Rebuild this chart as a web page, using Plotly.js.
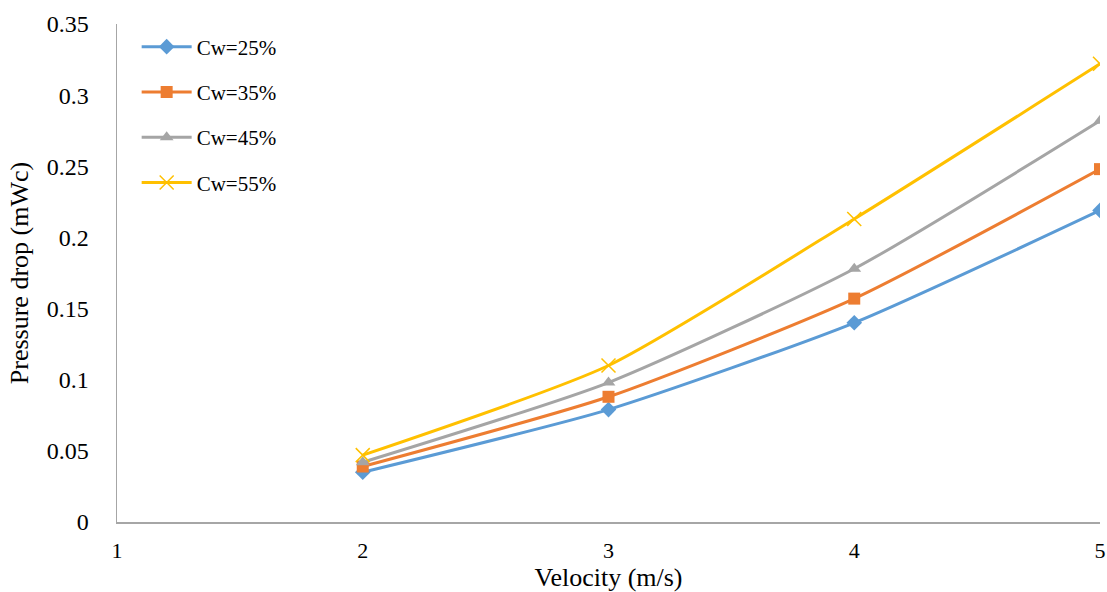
<!DOCTYPE html>
<html>
<head>
<meta charset="utf-8">
<script src="https://cdn.plot.ly/plotly-3.0.1.min.js"></script>
<style>
  html, body { margin: 0; padding: 0; background: #fff; }
  #chart { width: 1107px; height: 592px; }
</style>
</head>
<body>
<div id="chart"></div>
<script>
// Velocity (m/s)
const velocity = [2, 3, 4, 5];

// Pressure drop (mWc) for each water concentration
const cw25 = [0.035, 0.079, 0.140, 0.219];
const cw35 = [0.039, 0.088, 0.157, 0.248];
const cw45 = [0.042, 0.098, 0.178, 0.282];
const cw55 = [0.047, 0.110, 0.213, 0.322];

const seriesNames = ['Cw=25%', 'Cw=35%', 'Cw=45%', 'Cw=55%'];
const seriesValues = [cw25, cw35, cw45, cw55];
const colors = ['#5B9BD5', '#ED7D31', '#A5A5A5', '#FFC000'];
const symbols = ['diamond', 'square', 'triangle-up', 'x-thin'];
const sizes = [12, 12, 12, 14];

const FONT = 'Liberation Serif, Times New Roman, serif';

const traces = seriesValues.map((vals, i) => ({
  x: velocity,
  y: vals,
  name: seriesNames[i],
  legendgroup: 'g' + i,
  type: 'scatter',
  mode: 'lines+markers',
  line: { color: colors[i], width: 3, shape: 'spline', smoothing: 0.6 },
  marker: {
    symbol: symbols[i],
    size: sizes[i],
    color: colors[i],
    line: { color: colors[i], width: symbols[i] === 'x-thin' ? 1.5 : 0 }
  }
}));

const layout = {
  width: 1107,
  height: 592,
  margin: { l: 117, r: 7, t: 24, b: 70 },
  paper_bgcolor: '#ffffff',
  plot_bgcolor: '#ffffff',
  font: { family: FONT, color: '#000', size: 22 },
  showlegend: true,
  legend: {
    x: 0.02, y: 0.995, xanchor: 'left', yanchor: 'top',
    font: { family: FONT, size: 21, color: '#000' },
    bgcolor: 'rgba(0,0,0,0)',
    traceorder: 'grouped',
    tracegroupgap: 15,
    itemwidth: 50
  },
  xaxis: {
    range: [1, 5],
    tickvals: [1, 2, 3, 4, 5],
    showgrid: false,
    zeroline: false,
    showline: true,
    linecolor: '#A6A6A6',
    linewidth: 1.5,
    ticks: '',
    ticklabelstandoff: 8,
    tickfont: { family: FONT, size: 22, color: '#000' },
    title: { text: 'Velocity (m/s)', font: { family: FONT, size: 26, color: '#000' }, standoff: 3 }
  },
  yaxis: {
    range: [0, 0.35],
    dtick: 0.05,
    tick0: 0,
    showgrid: false,
    zeroline: false,
    showline: true,
    linecolor: '#A6A6A6',
    linewidth: 1.5,
    ticks: '',
    ticklabelstandoff: 22,
    tickfont: { family: FONT, size: 24, color: '#000' },
    title: { text: 'Pressure drop (mWc)', font: { family: FONT, size: 26, color: '#000' }, standoff: 10 }
  }
};

Plotly.newPlot('chart', traces, layout, { displayModeBar: false, staticPlot: true });
</script>
</body>
</html>
